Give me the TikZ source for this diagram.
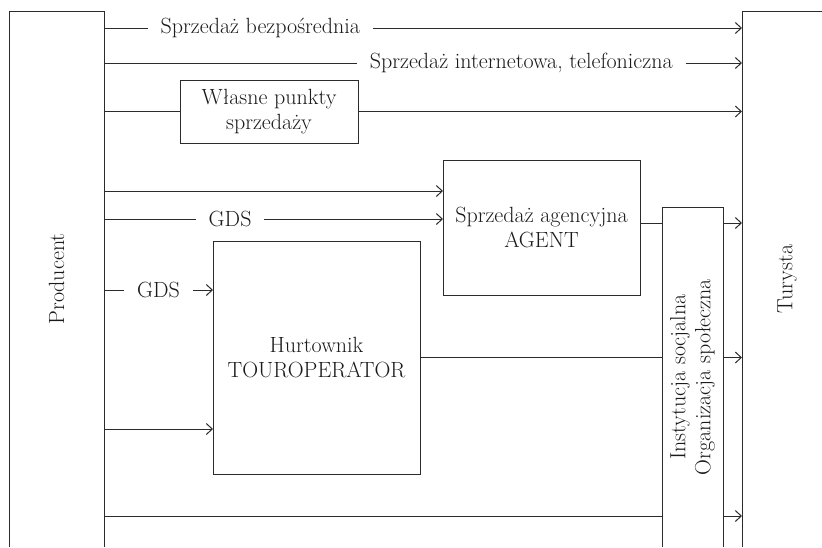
\documentclass[tikz,border=0pt]{standalone}
\usepackage{tikz}
\usetikzlibrary{arrows.meta, positioning}
\definecolor{ln}{HTML}{2B2B2B}
\definecolor{txt}{HTML}{1A1A1A}
\tikzset{
    frame/.style={inner sep=0pt, outer sep=0pt},
    blk/.style={draw=ln, line width=1pt, align=center, inner sep=0pt, outer sep=0pt},
    lnk/.style={draw=ln, line width=1pt, >={Straight Barb[length=6pt, width=11pt]}},
    lbl/.style={fill=white, inner xsep=13pt, inner ysep=2pt}
}

\begin{document}
\begin{tikzpicture}[x=1pt, y=-1pt, font=\fontsize{22}{25}\selectfont, text=txt]
    \useasboundingbox (0,0) rectangle (822,547);
    % ramy otwarte od dolu
    \node[frame, minimum width=95pt, minimum height=536pt, anchor=north west] (prod) at (9,11) {};
    \node[frame, minimum width=80pt, minimum height=536pt, anchor=north west] (tur) at (742,11) {};
    \node[frame, minimum width=61pt, minimum height=340pt, anchor=north west] (inst) at (662,207) {};
    \draw[lnk] (prod.south west) -- (prod.north west) -- (prod.north east) -- (prod.south east);
    \draw[lnk] (tur.south west) -- (tur.north west) -- (tur.north east);
    \draw[lnk] (inst.south west) -- (inst.north west) -- (inst.north east) -- (inst.south east);
    \node[rotate=90] (prodtxt) at (prod.center) {Producent};
    \node[rotate=90] (turtxt) at ([xshift=5pt]tur.center) {Turysta};
    \node[rotate=90, align=center] (insttxt) at (inst.center) {Instytucja socjalna\\Organizacja społeczna};
    % posrednicy
    \node[blk, minimum width=178pt, minimum height=63pt] (wl) at (269,111.5) {Własne punkty\\sprzedaży};
    \node[blk, minimum width=197pt, minimum height=135pt] (agent) at (541.5,227.5) {Sprzedaż agencyjna\\AGENT};
    \node[blk, minimum width=207pt, minimum height=233pt] (hurt) at (316.5,357.5) {Hurtownik\\TOUROPERATOR};
    % wiersze polaczen
    \coordinate (r1) at (0,28);
    \coordinate (r2) at (0,63);
    \coordinate (r4) at (0,191);
    \coordinate (r5) at (0,219);
    \coordinate (r6) at (0,290);
    \coordinate (r7) at (0,429);
    \coordinate (r8) at (0,223);
    \coordinate (r10) at (0,516);
    \draw[lnk, ->] (prod.east |- r1) -- node[lbl, pos=0.245] {Sprzedaż bezpośrednia} (tur.west |- r1);
    \draw[lnk, ->] (prod.east |- r2) -- node[lbl, pos=0.654] {Sprzedaż internetowa, telefoniczna} (tur.west |- r2);
    \draw[lnk] (prod.east |- wl.west) -- (wl.west);
    \draw[lnk, ->] (wl.east) -- (tur.west |- wl.east);
    \draw[lnk, ->] (prod.east |- r4) -- (agent.west |- r4);
    \draw[lnk, ->] (prod.east |- r5) -- node[lbl, pos=0.372] {GDS} (agent.west |- r5);
    \draw[lnk, ->] (prod.east |- r6) -- node[lbl] {GDS} (hurt.west |- r6);
    \draw[lnk, ->] (prod.east |- r7) -- (hurt.west |- r7);
    \draw[lnk] (agent.east |- r8) -- (inst.west |- r8);
    \draw[lnk, ->] (inst.east |- r8) -- (tur.west |- r8);
    \draw[lnk] (hurt.east) -- (inst.west |- hurt.east);
    \draw[lnk, ->] (inst.east |- hurt.east) -- (tur.west |- hurt.east);
    \draw[lnk] (prod.east |- r10) -- (inst.west |- r10);
    \draw[lnk, ->] (inst.east |- r10) -- (tur.west |- r10);
\end{tikzpicture}
\end{document}
